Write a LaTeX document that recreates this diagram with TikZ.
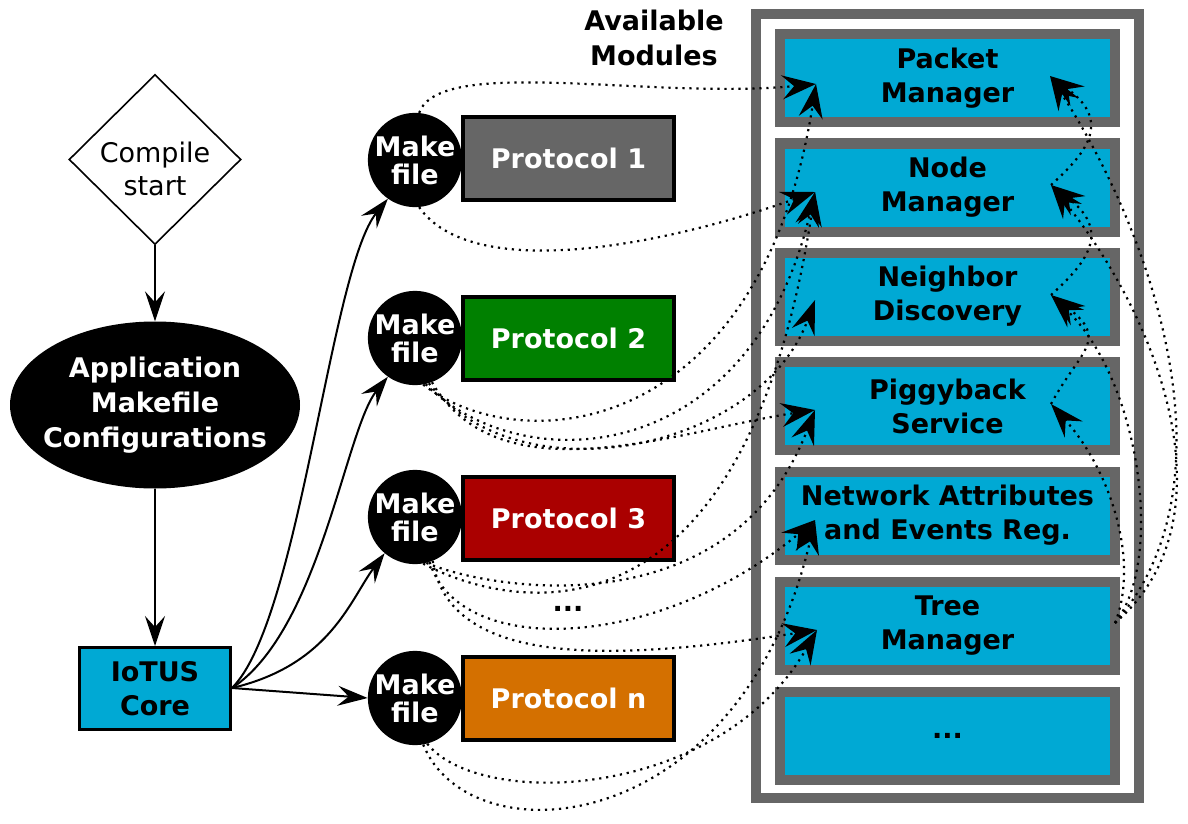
\documentclass[tikz,border=0pt]{standalone}
\usepackage{fontspec}
\setmainfont{DejaVu Sans}
\usetikzlibrary{arrows.meta,shapes.geometric}
\definecolor{iotcyan}{HTML}{00A9D4}
\definecolor{modgray}{HTML}{666666}
\definecolor{protgray}{HTML}{666666}
\definecolor{protgreen}{HTML}{008000}
\definecolor{protred}{HTML}{AA0000}
\definecolor{protorange}{HTML}{D47000}
\begin{document}
\begin{tikzpicture}[x=1pt,y=-1pt,
  lbl/.style={font=\bfseries\fontsize{27}{34}\selectfont, align=center},
  module/.style={lbl, draw=modgray, line width=10pt, fill=iotcyan,
    minimum width=335pt, minimum height=88pt, inner sep=0pt},
  protocol/.style={lbl, text=white, draw=black, line width=4pt,
    minimum width=211pt, minimum height=83pt, inner sep=0pt},
  makefile/.style={circle, fill=black, text=white, minimum size=92pt, inner sep=0pt,
    align=center, font=\bfseries\fontsize{27}{28}\selectfont},
  flow/.style={line width=2pt, -{Stealth[length=30pt,width=20pt,inset=11pt]}},
  dep/.style={line width=2.2pt, dash pattern=on 2.2pt off 4.8pt,
    -{Stealth[length=34pt,width=24pt,inset=12pt]}}
]
\useasboundingbox (0,0) rectangle (1188,824);

% ---- build flow on the left ----
\node[diamond, draw, line width=1.6pt, minimum width=172pt, minimum height=170pt,
  inner sep=0pt] (start) at (155,159.5) {};
\node[align=center, font=\fontsize{27}{33}\selectfont] (starttext)
  at ([yshift=-9pt]start.center) {Compile\\start};
\node[ellipse, fill=black, minimum width=290pt, minimum height=167pt,
  inner sep=0pt] (app) at (155,405) {};
\node[text=white, align=center, font=\bfseries\fontsize{27}{35}\selectfont] (apptext)
  at (app.center) {Application\\Makefile\\Configurations};
\node[lbl, draw=black, line width=3pt, fill=iotcyan, minimum width=151pt,
  minimum height=82pt, inner sep=0pt] (core) at (155,688.5) {IoTUS\\Core};

\draw[flow] (start.south) -- (app.north);
\draw[flow] (app.south) -- (core.north);

% ---- protocols and their makefiles ----
\node[protocol, fill=protgray]   (p1) at (568.5,158.5) {Protocol 1};
\node[protocol, fill=protgreen]  (p2) at (568.5,338)   {Protocol 2};
\node[protocol, fill=protred]    (p3) at (568.5,518)   {Protocol 3};
\node[protocol, fill=protorange] (pn) at (568.5,698.5) {Protocol n};
\node[lbl] (pdots) at (568,609) {...};

\node[makefile] (mk1) at (415,160) {Make\\file};
\node[makefile] (mk2) at (415,338) {Make\\file};
\node[makefile] (mk3) at (415,517) {Make\\file};
\node[makefile] (mkn) at (415,698) {Make\\file};

\coordinate (coreout) at (232,688);
\draw[flow] (coreout) .. controls (300,620) and (330,270) .. (mk1.235);
\draw[flow] (coreout) .. controls (320,630) and (345,430) .. (mk2.235);
\draw[flow] (coreout) .. controls (330,665) and (350,600) .. (mk3.230);
\draw[flow] (coreout) -- (mkn.west);

% ---- available modules ----
\node[lbl, font=\bfseries\fontsize{27}{35}\selectfont] (avail) at (654,37.5) {Available\\Modules};
\draw[modgray, line width=10pt] (756,14) rectangle (1139,798);

\node[module] (pkt) at (947.5,78)    {Packet\\Manager};
\node[module] (nod) at (947.5,187.5) {Node\\Manager};
\node[module] (nbr) at (947.5,296.5) {Neighbor\\Discovery};
\node[module] (pig) at (947.5,406)   {Piggyback\\Service};
\node[module] (net) at (947.5,515.5) {Network Attributes\\and Events Reg.};
\node[module] (tre) at (947.5,625.5) {Tree\\Manager};
\node[module] (mdots) at (947.5,735.5) {...};

% entry points on the modules
\coordinate (pkt-l) at (816,84);
\coordinate (nod-l) at (815,192);
\coordinate (nbr-l) at (815,300);
\coordinate (pig-l) at (815,410);
\coordinate (net-l) at (815,520);
\coordinate (tre-l) at (817,630);
\coordinate (pkt-r) at (1050,76);
\coordinate (nod-r) at (1051,185);
\coordinate (nbr-r) at (1051,295);
\coordinate (pig-r) at (1051,404);
\coordinate (tre-r) at (1115,623);

% ---- makefile includes ----
\draw[dep] (mk1.85)  .. controls (440,55)  and (650,100) .. (pkt-l);
\draw[dep] (mk1.275) .. controls (470,280) and (650,250) .. (nod-l);

\draw[dep] (mk2.280) .. controls (520,460) and (760,440) .. (pkt-l);
\draw[dep] (mk2.283) .. controls (520,480) and (750,470) .. (nod-l);
\draw[dep] (mk2.287) .. controls (520,500) and (760,450) .. (nbr-l);
\draw[dep] (mk2.291) .. controls (500,500) and (680,430) .. (pig-l);

\draw[dep] (mk3.280) .. controls (490,600) and (740,680) .. (nod-l);
\draw[dep] (mk3.284) .. controls (490,590) and (730,630) .. (pig-l);
\draw[dep] (mk3.288) .. controls (460,660) and (660,650) .. (net-l);
\draw[dep] (mk3.292) .. controls (450,670) and (620,660) .. (tre-l);

\draw[dep] (mkn.280) .. controls (470,860) and (740,840) .. (net-l);
\draw[dep] (mkn.285) .. controls (480,810) and (720,800) .. (tre-l);

% ---- dependencies between modules ----
\draw[dep] (nod-r) .. controls (1090,150) and (1110,120) .. (pkt-r);
\draw[dep] (nbr-r) .. controls (1090,260) and (1110,230) .. (nod-r);
\draw[dep] (pig-r) .. controls (1080,350) and (1110,340) .. (nbr-r);
\draw[dep] (tre-r) .. controls (1140,560) and (1110,470) .. (pig-r);
\draw[dep] (tre-r) .. controls (1165,560) and (1140,380) .. (nbr-r);
\draw[dep] (tre-r) .. controls (1235,520) and (1160,320) .. (nod-r);
\draw[dep] (tre-r) .. controls (1240,480) and (1150,230) .. (pkt-r);
\end{tikzpicture}
\end{document}
